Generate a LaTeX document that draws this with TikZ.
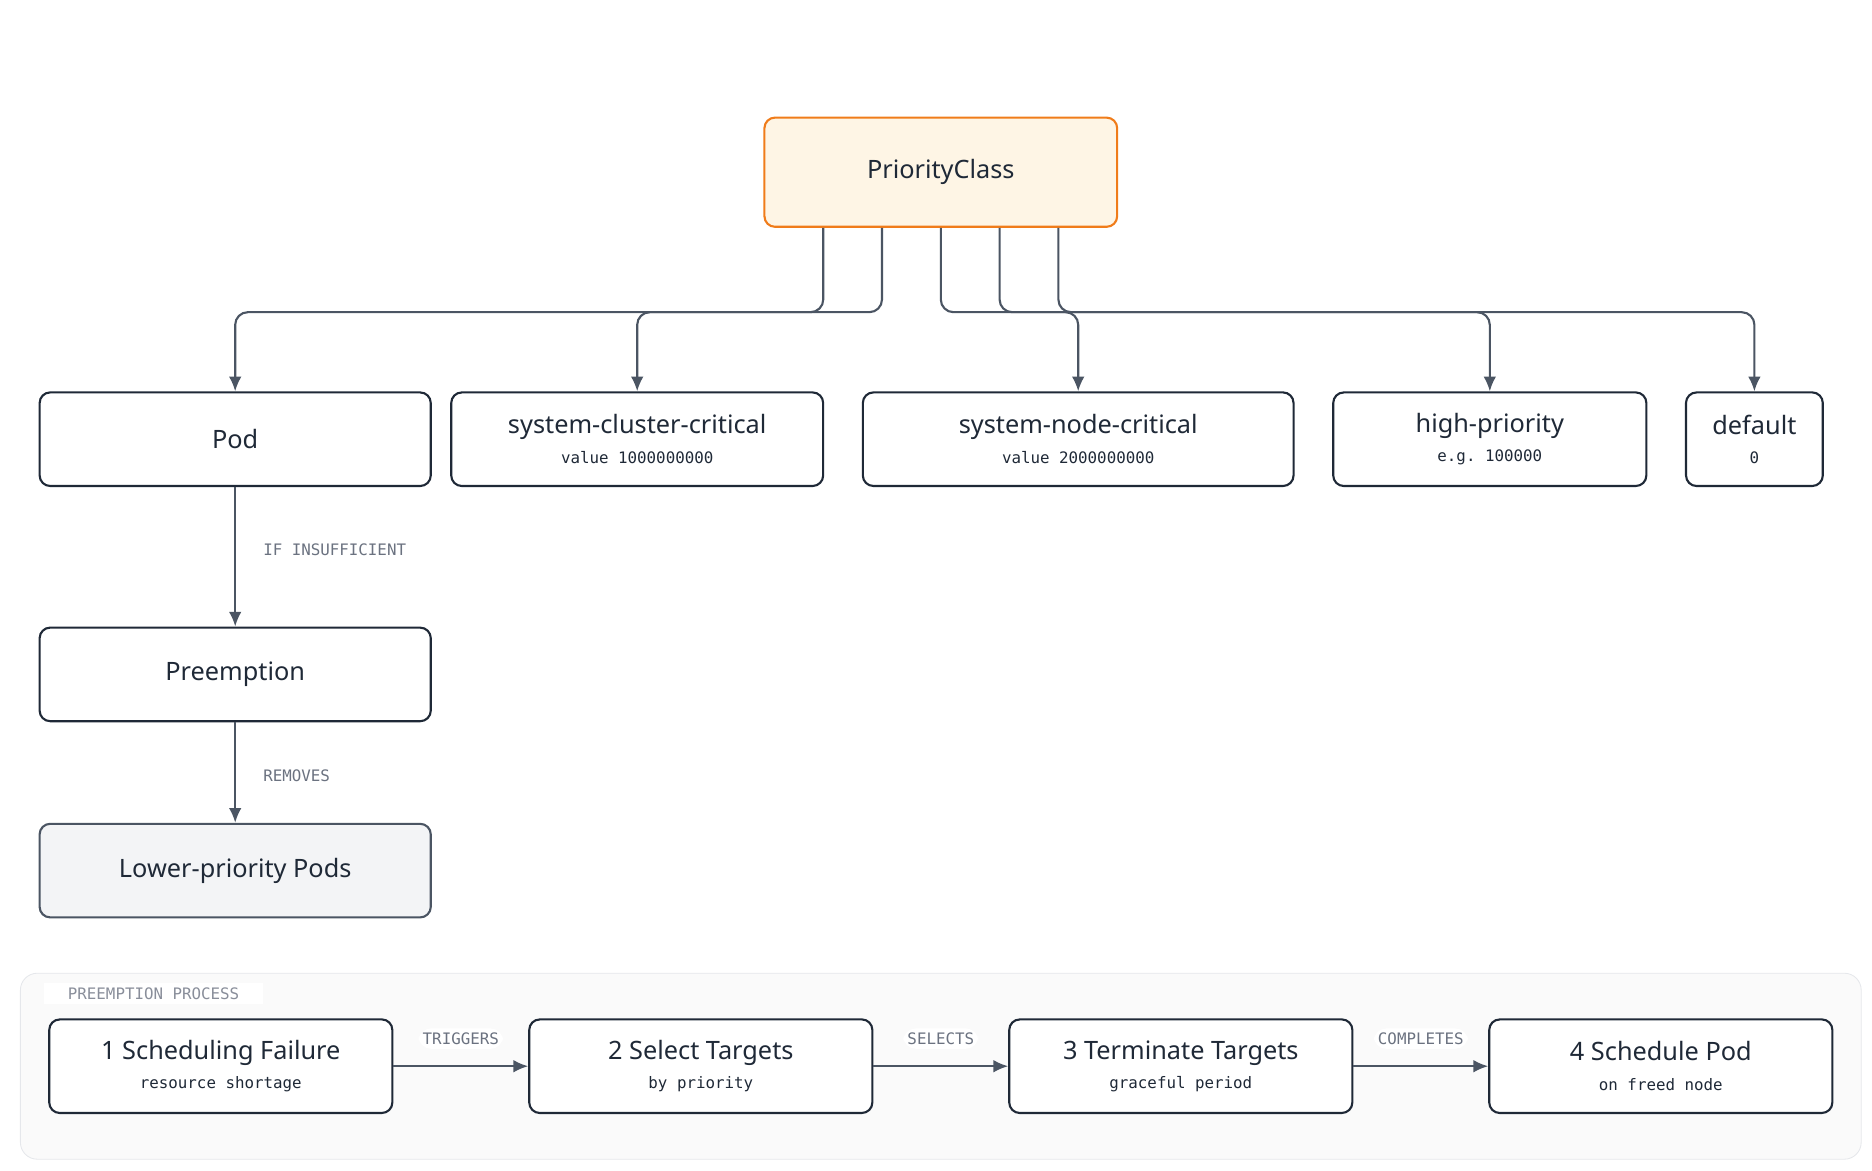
\documentclass[tikz,border=0pt]{standalone}
\usepackage{fontspec}
\setmainfont{Noto Sans}
\setmonofont{DejaVu Sans Mono}
\usetikzlibrary{calc}
\usetikzlibrary{positioning}
\usetikzlibrary{arrows.meta}

\definecolor{ink}{HTML}{1F2937}
\definecolor{wire}{HTML}{4B5563}
\definecolor{muted}{HTML}{6B7280}
\definecolor{orangeline}{HTML}{F07C1A}
\definecolor{orangefill}{HTML}{FEF5E5}
\definecolor{greyfill}{HTML}{F3F4F6}
\definecolor{panelfill}{HTML}{FAFAFA}
\definecolor{panelline}{HTML}{E5E7EB}

\tikzset{
  box/.style={draw=ink, line width=1pt, rounded corners=5pt, fill=white,
    minimum height=1.56cm, align=center, text=ink, inner sep=0pt},
  ttl/.style={font=\bfseries\fontsize{12}{14}\selectfont},
  conn/.style={draw=wire, line width=1pt, rounded corners=6pt, -{Latex[length=7pt,width=6pt]}},
  tag/.style={font=\ttfamily\fontsize{7.5}{9}\selectfont, text=muted, fill=white, inner sep=2pt},
}

\begin{document}
\begin{tikzpicture}[x=0.02cm,y=-0.02cm]
      \useasboundingbox (0,0) rectangle (1560,975);

      % panel behind the process steps
      \draw[panelline, fill=panelfill, rounded corners=8pt] (17,811) rectangle (1551,966);
      \node[tag, fill=white, text=muted!80, minimum width=3.66cm, minimum height=0.36cm] (paneltag) at (128,828) {PREEMPTION PROCESS};

      \node[box, ttl, draw=orangeline, fill=orangefill, minimum width=5.88cm, minimum height=1.82cm] (pc) at (784,143.5) {PriorityClass};

      \node[box, ttl, minimum width=6.52cm] (pod) at (196,366) {Pod};
      \node[box, minimum width=6.2cm] (scc) at (531,366) {{\bfseries\fontsize{12}{14}\selectfont system-cluster-critical}\\[2pt]{\ttfamily\fontsize{7.5}{9}\selectfont value 1000000000}};
      \node[box, minimum width=7.18cm] (snc) at (898.5,366) {{\bfseries\fontsize{12}{14}\selectfont system-node-critical}\\[2pt]{\ttfamily\fontsize{7.5}{9}\selectfont value 2000000000}};
      \node[box, minimum width=5.22cm] (hp) at (1241.5,366) {{\bfseries\fontsize{12}{14}\selectfont high-priority}\\[2pt]{\ttfamily\fontsize{7.5}{9}\selectfont e.g. 100000}};
      \node[box, minimum width=2.28cm] (dflt) at (1462,366) {{\bfseries\fontsize{12}{14}\selectfont default}\\[2pt]{\ttfamily\fontsize{7.5}{9}\selectfont 0}};

      \node[box, ttl, minimum width=6.52cm] (pre) at (196,562) {Preemption};
      \node[box, ttl, fill=greyfill, draw=wire, minimum width=6.52cm] (low) at (196,725.5) {Lower-priority Pods};

      % fan out from PriorityClass
      \draw[conn] ([xshift=-1.96cm]pc.south) |- ([yshift=1.32cm]pod.north) -- (pod.north);
      \draw[conn] ([xshift=-0.98cm]pc.south) |- ([yshift=1.32cm]scc.north) -- (scc.north);
      \draw[conn] (pc.south) |- ([yshift=1.32cm]snc.north) -- (snc.north);
      \draw[conn] ([xshift=0.98cm]pc.south) |- ([yshift=1.32cm]hp.north) -- (hp.north);
      \draw[conn] ([xshift=1.96cm]pc.south) |- ([yshift=1.32cm]dflt.north) -- (dflt.north);

      \draw[conn] (pod) -- (pre) node[tag, midway, anchor=west, xshift=0.38cm, yshift=0.12cm] {IF INSUFFICIENT};
      \draw[conn] (pre) -- (low) node[tag, midway, anchor=west, xshift=0.38cm, yshift=-0.05cm] {REMOVES};

      % process steps
      \foreach \n/\cx/\a/\b in {s1/184/1 Scheduling Failure/resource shortage,
                                s2/584/2 Select Targets/by priority,
                                s3/984/3 Terminate Targets/graceful period,
                                s4/1384/4 Schedule Pod/on freed node}
        \node[box, minimum width=5.72cm] (\n) at (\cx,888.5) {{\bfseries\fontsize{12}{14}\selectfont \a}\\[2pt]{\ttfamily\fontsize{7.5}{9}\selectfont \b}};

      \draw[conn] (s1) -- (s2) node[tag, midway, yshift=0.46cm] {TRIGGERS};
      \draw[conn] (s2) -- (s3) node[tag, midway, yshift=0.46cm] {SELECTS};
      \draw[conn] (s3) -- (s4) node[tag, midway, yshift=0.46cm] {COMPLETES};
    \end{tikzpicture}
\end{document}
